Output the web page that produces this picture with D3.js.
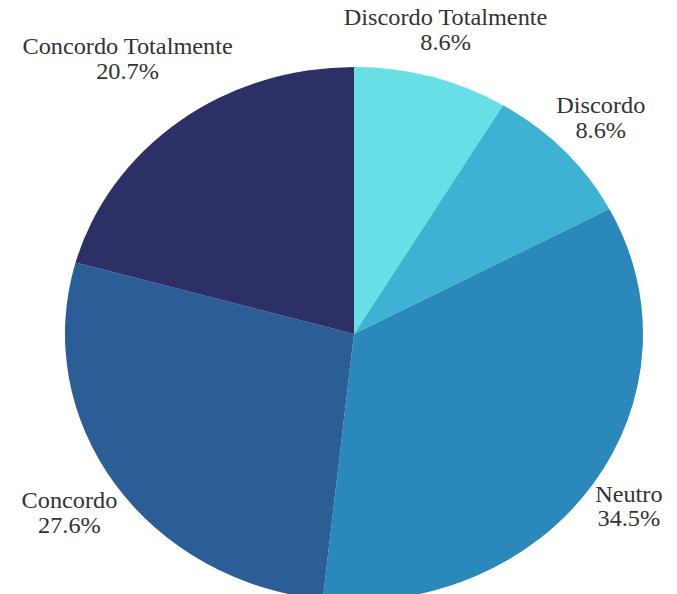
<!DOCTYPE html>
<html>
<head>
<meta charset="utf-8">
<script src="https://cdn.jsdelivr.net/npm/d3@7"></script>
<style>
  body { margin: 0; background: #fff; }
  svg text { font-family: "Liberation Serif", "DejaVu Serif", serif; fill: #333; }
</style>
</head>
<body>
<div id="chart"></div>
<script>
// answers (counts), clockwise from 12 o'clock
const categories = ['Discordo Totalmente', 'Discordo', 'Neutro', 'Concordo', 'Concordo Totalmente'];
const counts = [5, 5, 20, 16, 12];
const percentLabels = ['8.6%', '8.6%', '34.5%', '27.6%', '20.7%'];
const colors = ['#66e0e6', '#3eb2d2', '#2a88bb', '#2b5d97', '#2d3066'];

const config = {
  width: 677,
  height: 594,
  cx: 354,
  cy: 334,
  rx: 289,
  ry: 267,
  labelGap: 1.0, // labels sit just outside the pie edge
  fontSize: 24.3,
  lineHeight: 27
};
const squash = config.ry / config.rx;

const data = categories.map((c, i) => ({ name: c, value: counts[i], pct: percentLabels[i] }));

const svg = d3.select('#chart')
  .append('svg')
  .attr('width', config.width)
  .attr('height', config.height);

const scaleColor = d3.scaleOrdinal().domain(categories).range(colors);

const pie = d3.pie().sort(null).value(d => d.value);
const arcs = pie(data);

const arc = d3.arc().innerRadius(0).outerRadius(config.rx);

// the pie is a bit squashed vertically in the original
const pieG = svg.append('g')
  .attr('transform', `translate(${config.cx}, ${config.cy}) scale(1, ${squash})`);

pieG.selectAll('.slice')
  .data(arcs)
  .join('path')
  .attr('class', 'slice')
  .attr('d', arc)
  .attr('fill', d => scaleColor(d.data.name));

// labels outside the pie at the mid angle
const labelG = svg.append('g')
  .attr('transform', `translate(${config.cx}, ${config.cy})`);

const labels = labelG.selectAll('.label')
  .data(arcs)
  .join('text')
  .attr('class', 'label')
  .attr('text-anchor', 'middle')
  .style('font-size', config.fontSize + 'px');

labels.append('tspan')
  .attr('x', 0)
  .attr('y', 0)
  .text(d => d.data.name);

labels.append('tspan')
  .attr('x', 0)
  .attr('y', config.lineHeight)
  .text(d => d.data.pct);

// push each label box out along its mid angle until it clears the pie
labels.attr('transform', function(d) {
  const a = (d.startAngle + d.endAngle) / 2;
  const box = this.getBBox();
  const ex = box.width / 2 / config.rx;
  const ey = box.height * squash / 2 / config.ry;
  const r = config.labelGap + Math.abs(Math.sin(a)) * ex + Math.abs(Math.cos(a)) * ey;
  const x = r * config.rx * Math.sin(a);
  const y = -r * config.ry * Math.cos(a);
  const bx = box.x + box.width / 2;
  const by = (box.y + box.height / 2) * squash;
  return `translate(${x - bx}, ${y - by}) scale(1, ${squash})`;
});
</script>
</body>
</html>
